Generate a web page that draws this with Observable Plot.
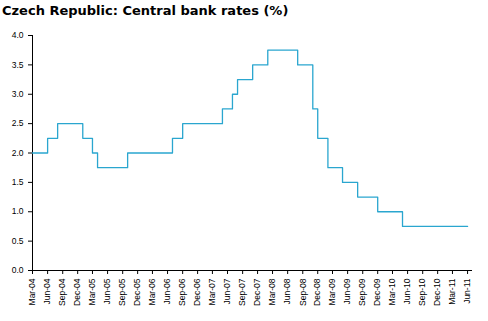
<!DOCTYPE html>
<html><head><meta charset="utf-8">
<script src="https://cdn.jsdelivr.net/npm/d3@7"></script>
<script src="https://cdn.jsdelivr.net/npm/@observablehq/plot@0.6"></script>
<style>
body{margin:0;background:#fff;width:488px;height:321px;overflow:hidden}
#title{font-family:"DejaVu Sans",sans-serif;font-weight:bold;font-size:13px;height:24px;line-height:22px;padding-left:2px;color:#000;white-space:nowrap}
#chart svg{display:block}
</style></head><body>
<div id="title">Czech Republic: Central bank rates (%)</div>
<div id="chart"></div>
<script>
// Month in which each rate took effect (as plotted), and the rate
const months = ["2004-03","2004-06","2004-08","2005-01","2005-03","2005-04","2005-10",
  "2006-07","2006-09","2007-05","2007-07","2007-08","2007-11","2008-02","2008-08",
  "2008-11","2008-12","2009-02","2009-05","2009-08","2009-12","2010-05","2011-06"];
const rates = [2.00,2.25,2.50,2.25,2.00,1.75,2.00,
  2.25,2.50,2.75,3.00,3.25,3.50,3.75,3.50,
  2.75,2.25,1.75,1.50,1.25,1.00,0.75,0.75];
const yTicks = [0,0.5,1,1.5,2,2.5,3,3.5,4];
const xTickLabels = ["Mar-04","Jun-04","Sep-04","Dec-04","Mar-05","Jun-05","Sep-05","Dec-05",
  "Mar-06","Jun-06","Sep-06","Dec-06","Mar-07","Jun-07","Sep-07","Dec-07",
  "Mar-08","Jun-08","Sep-08","Dec-08","Mar-09","Jun-09","Sep-09","Dec-09",
  "Mar-10","Jun-10","Sep-10","Dec-10","Mar-11","Jun-11"];
const xStart = "2004-03", xEnd = "2011-07";

const pm = d3.utcParse("%Y-%m");
const pl = d3.utcParse("%b-%y");
const data = months.map((m, i) => ({date: pm(m), rate: rates[i]}));
const tickDates = xTickLabels.map(pl);
const x0 = pm(xStart), x1 = pm(xEnd);

const chart = Plot.plot({
  width: 488, height: 297,
  marginTop: 11, marginBottom: 51, marginLeft: 32, marginRight: 16,
  style: {fontFamily: "'Liberation Sans', Arial, sans-serif", fontSize: "8.5px", color: "#000", background: "#fff"},
  x: {type: "utc", domain: [x0, x1]},
  y: {domain: [0, 4]},
  marks: [
    Plot.axisY({ticks: yTicks, tickFormat: d => d.toFixed(1), tickSize: 4, tickPadding: 5, label: null}),
    Plot.axisX({ticks: tickDates, tickFormat: d3.utcFormat("%b-%y"), tickRotate: -90, tickSize: 4, tickPadding: 4, label: null}),
    Plot.ruleX([x0], {stroke: "#000"}),
    Plot.ruleY([0], {stroke: "#000"}),
    Plot.line(data, {x: "date", y: "rate", curve: "step-after", stroke: "#2aa6cf", strokeWidth: 1.3})
  ]
});
document.getElementById("chart").appendChild(chart);
</script>
</body></html>
